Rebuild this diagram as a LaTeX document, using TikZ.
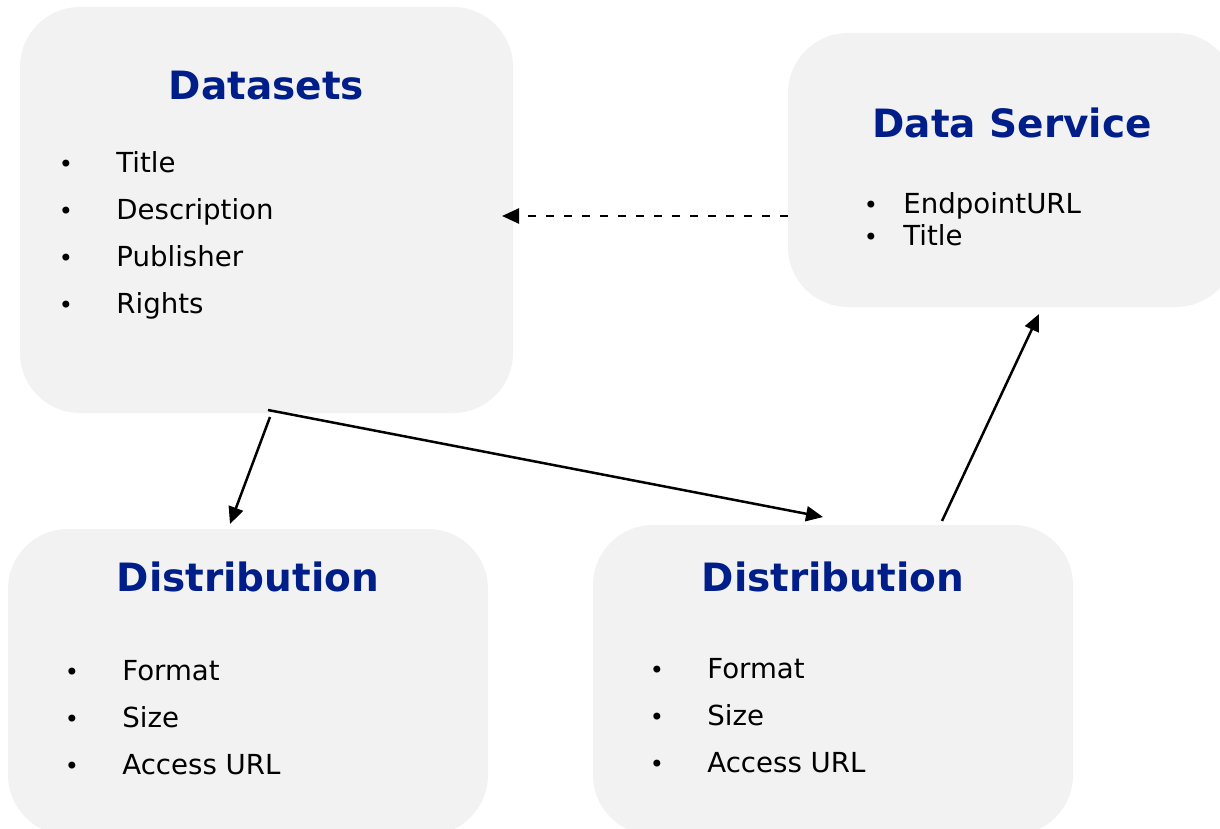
\documentclass[tikz,border=0pt]{standalone}
\usepackage{fontspec}
\setmainfont{DejaVu Sans}
\usetikzlibrary{arrows.meta}

\definecolor{boxgray}{RGB}{242,242,242}
\definecolor{titleblue}{RGB}{0,30,138}

\tikzset{
    box/.style={fill=boxgray,rounded corners=30pt,inner sep=0pt},
    boxtitle/.style={anchor=base,inner sep=0pt,text=titleblue,font=\fontsize{19.5}{22}\selectfont\bfseries},
    bullet/.style={anchor=base,inner sep=0pt,font=\fontsize{12}{14}\selectfont},
    item/.style={anchor=base west,inner sep=0pt,font=\fontsize{13.8}{16}\selectfont},
    link/.style={line width=1.25pt,-{Triangle[length=8.5pt,width=7.5pt]}}
}

\begin{document}
\begin{tikzpicture}[x=0.5pt,y=-0.5pt]

    % page frame
    \useasboundingbox (0,0) rectangle (1220,829);

    % draw boxes
    \node[box,minimum width=246.5pt,minimum height=203pt] (ds) at (266.5,210) {};
    \node[box,minimum width=224pt,minimum height=137pt] (dsv) at (1012,170) {};
    \node[box,minimum width=240pt,minimum height=153pt] (dl) at (248,682) {};
    \node[box,minimum width=240pt,minimum height=155pt] (dr) at (833,680) {};

    % titles
    \node[boxtitle] (ds-title) at (266.5,100) {Datasets};
    \node[boxtitle] (dsv-title) at (1012,137) {Data Service};
    \node[boxtitle] (dl-title) at (248,591) {Distribution};
    \node[boxtitle] (dr-title) at (833,591) {Distribution};

    % bullet lists
    \foreach \txt [count=\i] in {Title,Description,Publisher,Rights} {
        \node[bullet] (ds-b\i) at (66,125+47*\i) {•};
        \node[item] (ds-t\i) at (116,125+47*\i) {\txt};
    }
    \foreach \txt [count=\i] in {EndpointURL,Title} {
        \node[bullet] (dsv-b\i) at (871,181+32*\i) {•};
        \node[item] (dsv-t\i) at (903,181+32*\i) {\txt};
    }
    \foreach \txt [count=\i] in {Format,Size,Access URL} {
        \node[bullet] (dl-b\i) at (72,633+47*\i) {•};
        \node[item] (dl-t\i) at (122,633+47*\i) {\txt};
        \node[bullet] (dr-b\i) at (657,631+47*\i) {•};
        \node[item] (dr-t\i) at (707,631+47*\i) {\txt};
    }

    % connector ends
    \coordinate (ds-in) at (502,216);
    \coordinate (ds-outa) at (270,417);
    \coordinate (ds-outb) at (268,410);
    \coordinate (dl-in) at (230,524);
    \coordinate (dr-in) at (823,517);
    \coordinate (dr-out) at (942,521);
    \coordinate (dsv-in) at (1039,314);

    % arrows
    \draw[link,dash pattern=on 4pt off 5pt] ([yshift=-23pt]dsv.west) -- (ds-in);
    \draw[link] (ds-outa) -- (dl-in);
    \draw[link] (ds-outb) -- (dr-in);
    \draw[link] (dr-out) -- (dsv-in);

\end{tikzpicture}
\end{document}
